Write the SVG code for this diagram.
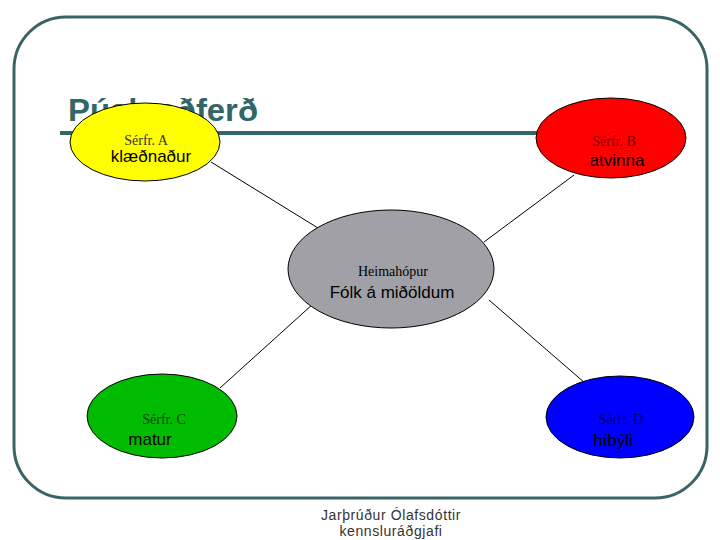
<svg xmlns="http://www.w3.org/2000/svg" width="720" height="540" viewBox="0 0 720 540">
<style>
.frame{fill:none;stroke:#3a6464;stroke-width:3}
.node{stroke:#000;stroke-width:1}
.lbl{font-family:"Times New Roman","Liberation Serif",serif;font-size:14px;text-anchor:middle}
.txt{font-family:Arial,"Liberation Sans",sans-serif;font-size:17px;fill:#000;text-anchor:middle}
.conn line{stroke:#000;stroke-width:1}
</style>
<rect class="frame" x="14" y="17" width="693" height="481" rx="52" ry="52"/>
<g id="title">
<text x="68" y="121" font-family="Arial,'Liberation Sans',sans-serif" font-weight="bold" font-size="31" fill="#336666" textLength="190" lengthAdjust="spacingAndGlyphs">Púsluaðferð</text>
<line x1="60" y1="133" x2="610" y2="133" stroke="#336666" stroke-width="4"/>
</g>
<g class="conn" id="connectors">
<line x1="211" y1="162" x2="318" y2="228"/>
<line x1="574" y1="175" x2="484" y2="242"/>
<line x1="220" y1="388" x2="313" y2="304"/>
<line x1="585" y1="383" x2="489" y2="300"/>
</g>
<g id="nodeA">
<ellipse class="node" cx="145" cy="142" rx="75" ry="39" fill="#ffff00"/>
<text class="lbl" x="146" y="145" font-size="15" fill="#333">Sérfr. A</text>
<text class="txt" x="151" y="162">klæðnaður</text>
</g>
<g id="nodeB">
<ellipse class="node" cx="611" cy="138" rx="75" ry="40" fill="#ff0000"/>
<text class="lbl" x="614" y="146" fill="#800000">Sérfr. B</text>
<text class="txt" x="617" y="166">atvinna</text>
</g>
<g id="nodeHome">
<ellipse class="node" cx="391" cy="269" rx="103" ry="59" fill="#a0a0a6"/>
<text class="lbl" x="393" y="276" font-size="16" fill="#000">Heimahópur</text>
<text class="txt" x="392" y="298">Fólk á miðöldum</text>
</g>
<g id="nodeC">
<ellipse class="node" cx="162" cy="416" rx="75" ry="42" fill="#00bb00"/>
<text class="lbl" x="164" y="424" font-size="15" fill="#004400">Sérfr. C</text>
<text class="txt" x="150" y="445">matur</text>
</g>
<g id="nodeD">
<ellipse class="node" cx="620" cy="417" rx="74" ry="41" fill="#0000ff"/>
<text class="lbl" x="621" y="424" font-size="15" fill="#000066">Sérfr. D</text>
<text class="txt" x="613" y="446">híbýli</text>
</g>
<g id="footer" font-family="Arial,'Liberation Sans',sans-serif" font-size="14" fill="#333" text-anchor="middle" letter-spacing="0.6">
<text x="391" y="520">Jarþrúður Ólafsdóttir</text>
<text x="391" y="536">kennsluráðgjafi</text>
</g>
</svg>
